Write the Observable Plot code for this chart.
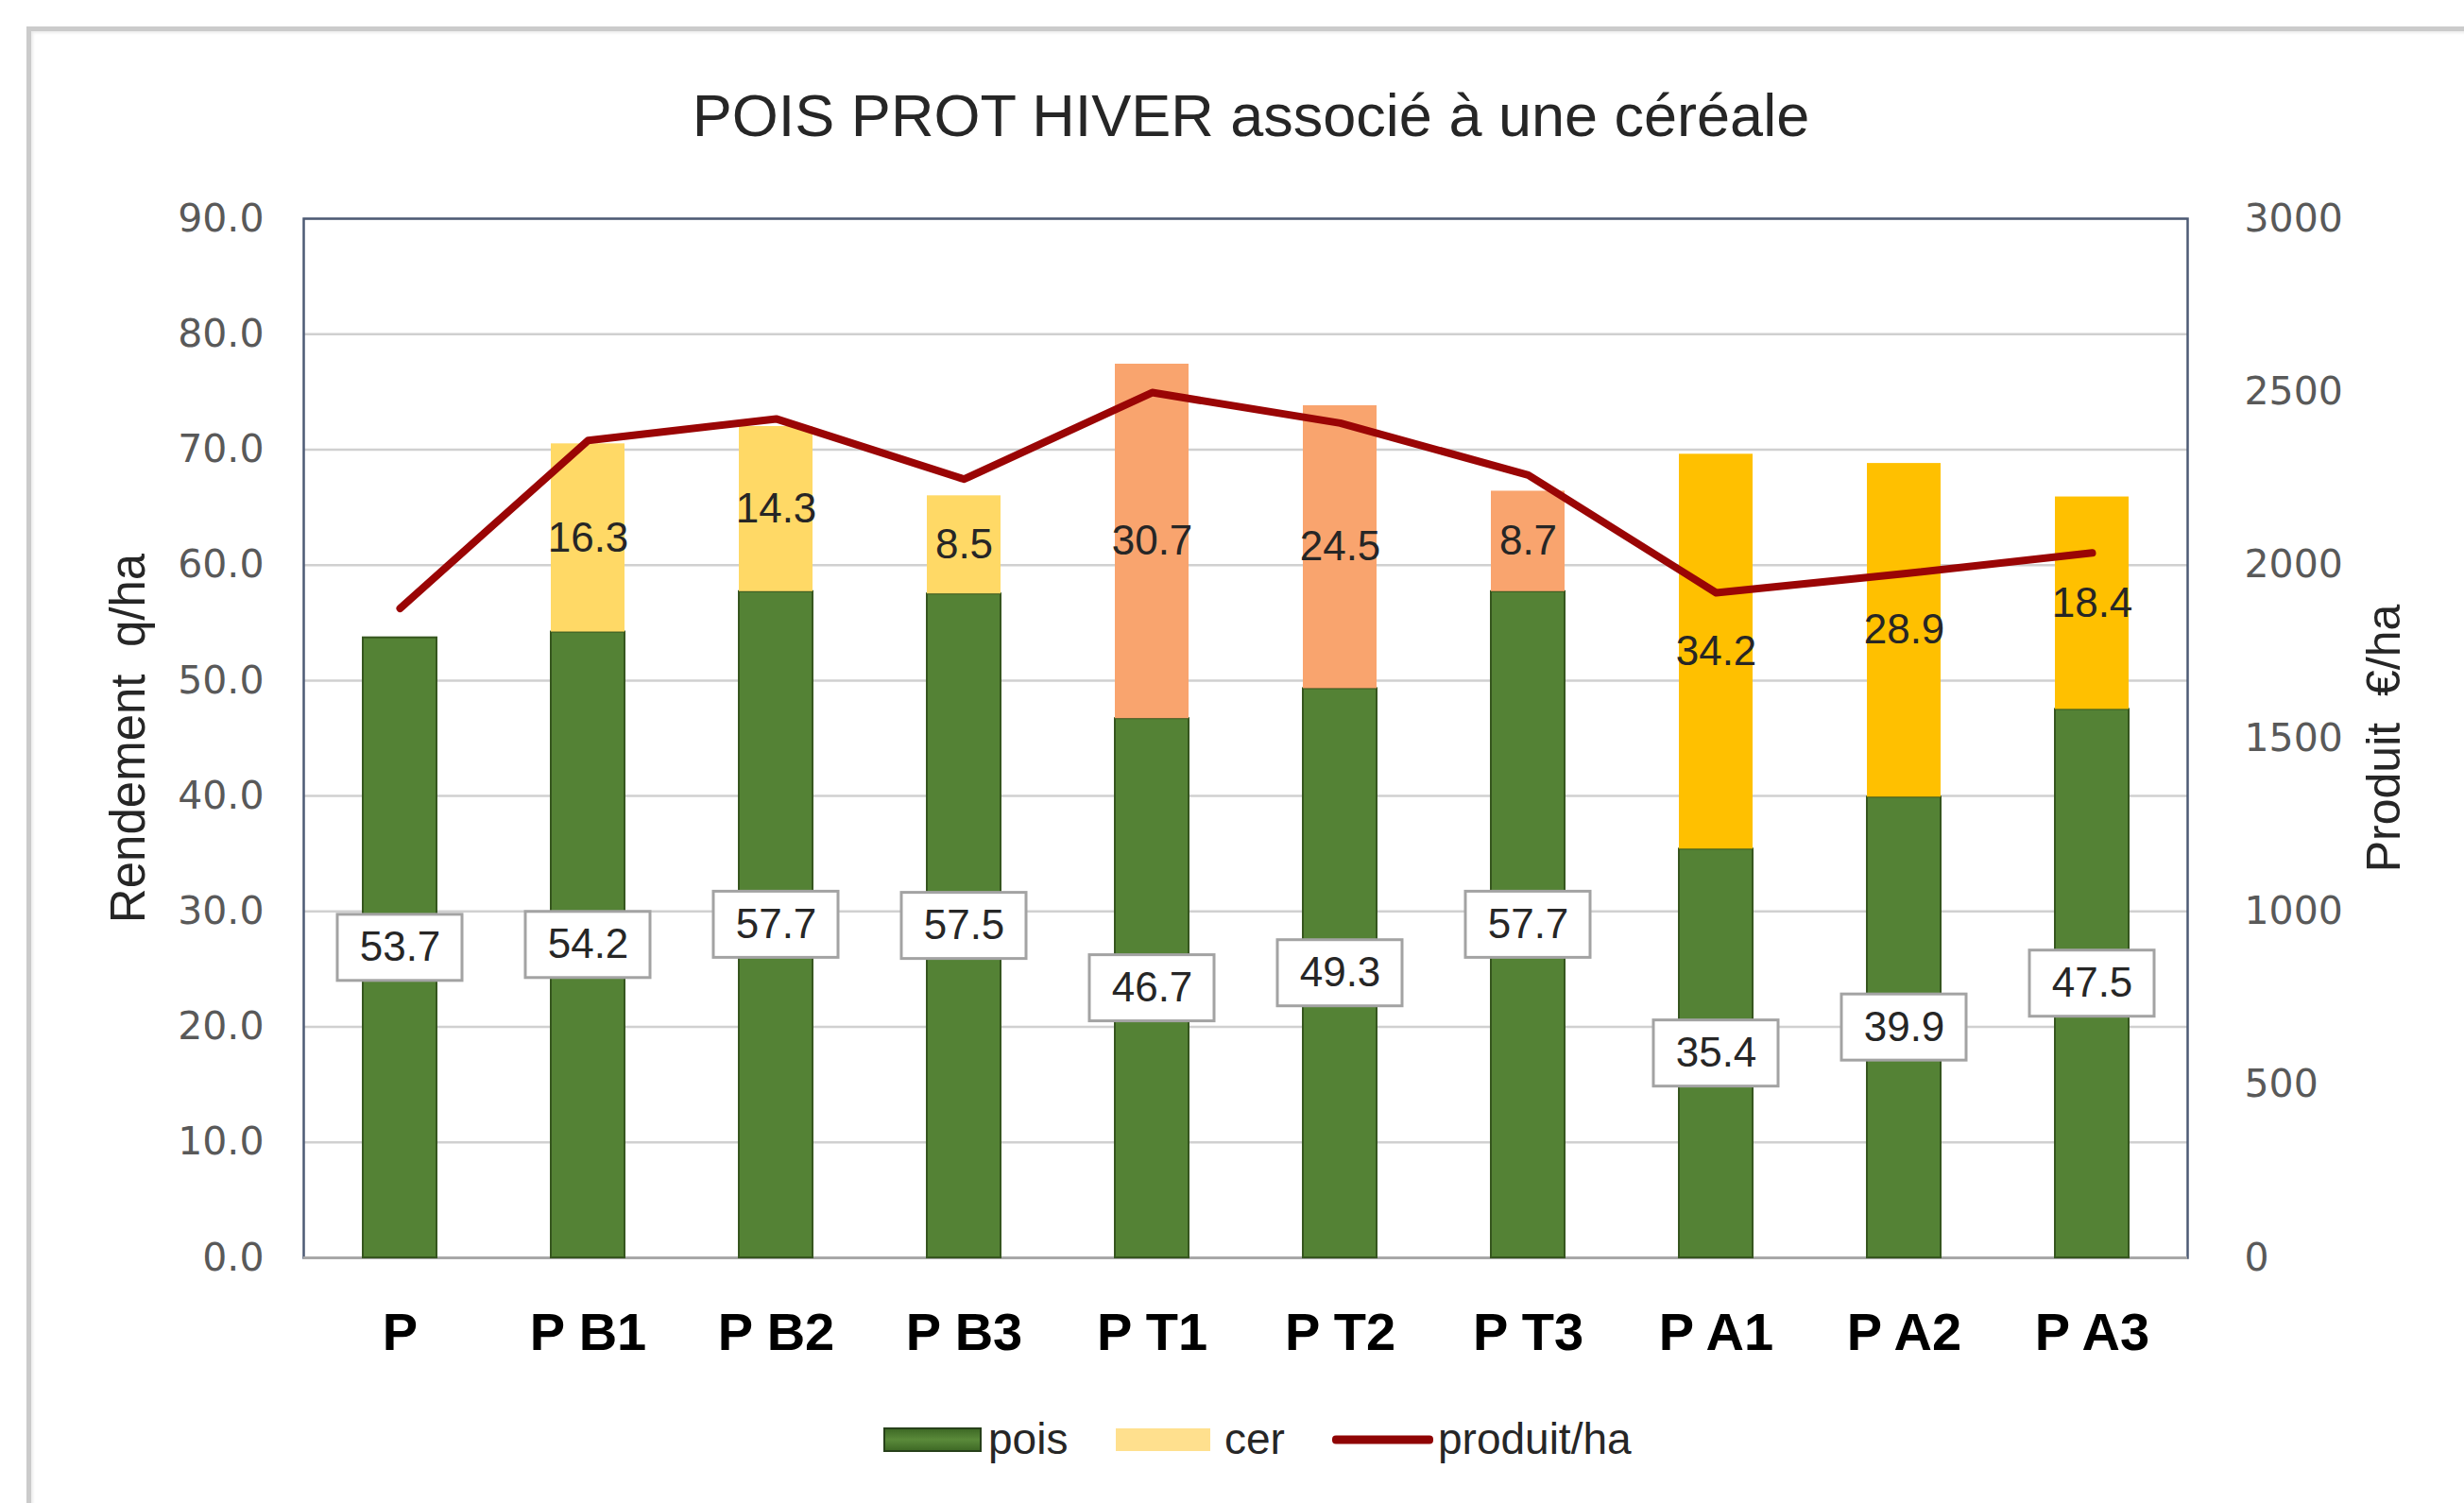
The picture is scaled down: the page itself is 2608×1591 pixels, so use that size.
<!DOCTYPE html>
<html><head><meta charset="utf-8">
<script src="https://cdn.jsdelivr.net/npm/d3@7"></script>
<script src="https://cdn.jsdelivr.net/npm/@observablehq/plot@0.6"></script>
<style>
html,body{margin:0;padding:0;background:#fff;}
#wrap{position:relative;width:2608px;height:1591px;overflow:hidden;background:#fff;}
#border{position:absolute;left:28px;top:28px;width:2700px;height:1700px;border-left:5px solid #cbcbcb;border-top:5px solid #cbcbcb;box-shadow:inset 2px 2px 3px rgba(0,0,0,0.08);}
#title{position:absolute;left:20px;width:2608px;top:91px;text-align:center;font-family:"Liberation Sans",Arial,sans-serif;font-size:63px;line-height:1;color:#262626;}
#chart{position:absolute;left:0;top:0;}
.lg{position:absolute;top:1524px;transform:translateY(-50%);}
.lgt{position:absolute;top:1524px;transform:translateY(-52%);font-family:"Liberation Sans",Arial,sans-serif;font-size:46px;line-height:1;color:#262626;white-space:nowrap;}
</style></head>
<body><div id="wrap">
<div id="border"></div>
<div id="title">POIS PROT HIVER associé à une céréale</div>
<div id="chart"></div>
<div class="lg" style="left:935px;width:100px;height:22px;background:linear-gradient(#3f6a26,#5a8a3a 50%,#3f6a26);border:2px solid #27401a;"></div>
<div class="lgt" style="left:1046px" id="l1"></div>
<div class="lg" style="left:1181px;width:100px;height:24px;background:#FFE08E;"></div>
<div class="lgt" style="left:1296px" id="l2"></div>
<div class="lg" style="left:1410px;width:107px;height:9px;background:#8f0404;border-radius:4px;"></div>
<div class="lgt" style="left:1522px" id="l3"></div>
</div>
<script>
const categories = ["P","P B1","P B2","P B3","P T1","P T2","P T3","P A1","P A2","P A3"];
const pois = [53.7,54.2,57.7,57.5,46.7,49.3,57.7,35.4,39.9,47.5];
const cer = [null,16.3,14.3,8.5,30.7,24.5,8.7,34.2,28.9,18.4];
const cerGroup = ["","B","B","B","T","T","T","A","A","A"];
const produit = [1875,2360,2422,2248,2498,2410,2260,1920,1975,2035];
const yTicks = [0,10,20,30,40,50,60,70,80,90];
const y2Ticks = [0,500,1000,1500,2000,2500,3000];
const seriesNames = ["pois","cer","produit/ha"];
const cerColors = {B:"#FFD966", T:"#F9A46E", A:"#FFC000"};

document.getElementById("l1").textContent = seriesNames[0];
document.getElementById("l2").textContent = seriesNames[1];
document.getElementById("l3").textContent = seriesNames[2];

const k = 90/3000;
const rows = categories.map((c,i)=>({cat:c,pois:pois[i],cer:cer[i],grp:cerGroup[i],prod:produit[i]}));
const cerRows = rows.filter(d=>d.cer != null);
const lblFont = "Liberation Sans, Arial, sans-serif";

const chart = Plot.plot({
  width:2608, height:1460,
  marginTop:231, marginBottom:129, marginLeft:321, marginRight:293,
  x:{domain:categories, paddingInner:0.61, paddingOuter:0.305, axis:null},
  y:{domain:[0,90], axis:null},
  color:{type:"identity"},
  style:{background:"transparent"},
  marks:[
    Plot.gridY(yTicks, {stroke:"#d0d0d0", strokeOpacity:1, strokeWidth:2.5}),
    Plot.frame({stroke:"#4d5b75", strokeWidth:2.5}),
    Plot.ruleY([0], {stroke:"#a8a8a8", strokeWidth:3}),
    Plot.barY(rows, {x:"cat", y1:0, y2:"pois", fill:"#548235", stroke:"#36561f", strokeWidth:2}),
    Plot.barY(cerRows, {x:"cat", y1:"pois", y2:d=>d.pois+d.cer, fill:d=>cerColors[d.grp]}),
    Plot.line(rows, {x:"cat", y:d=>d.prod*k, stroke:"#9a0505", strokeWidth:8, strokeLinejoin:"round", strokeLinecap:"round"}),
    Plot.barY(rows, {x:"cat", y1:d=>d.pois/2, y2:d=>d.pois/2, insetTop:-35, insetBottom:-35, insetLeft:-27, insetRight:-27, fill:"white", stroke:"#a3a3a3", strokeWidth:3}),
    Plot.text(rows, {x:"cat", y:d=>d.pois/2, text:d=>d.pois.toFixed(1), fontSize:44, fontFamily:lblFont, fill:"#262626"}),
    Plot.text(cerRows, {x:"cat", y:d=>d.pois+d.cer/2, text:d=>d.cer.toFixed(1), fontSize:44, fontFamily:lblFont, fill:"#262626"}),
    Plot.axisY(yTicks, {anchor:"left", label:null, tickSize:0, tickPadding:42, tickFormat:d=>d.toFixed(1), fontSize:41, fontFamily:"DejaVu Sans, sans-serif", color:"#595959"}),
    Plot.axisY(y2Ticks.map(v=>v*k), {anchor:"right", label:null, tickSize:0, tickPadding:60, tickFormat:d=>String(Math.round(d/k)), fontSize:41, fontFamily:"DejaVu Sans, sans-serif", color:"#595959"}),
    Plot.axisX({anchor:"bottom", label:null, tickSize:0, tickPadding:58, fontSize:56, fontWeight:"bold", fontFamily:lblFont, color:"#000"}),
    Plot.text(["Rendement  q/ha"], {frameAnchor:"left", dx:-185, rotate:-90, textAnchor:"middle", text:d=>d, fontSize:51, fontFamily:lblFont, fill:"#262626"}),
    Plot.text(["Produit  €/ha"], {frameAnchor:"right", dx:208, rotate:-90, textAnchor:"middle", text:d=>d, fontSize:50, fontFamily:lblFont, fill:"#262626"})
  ]
});
document.getElementById("chart").appendChild(chart);
</script>
</body></html>
